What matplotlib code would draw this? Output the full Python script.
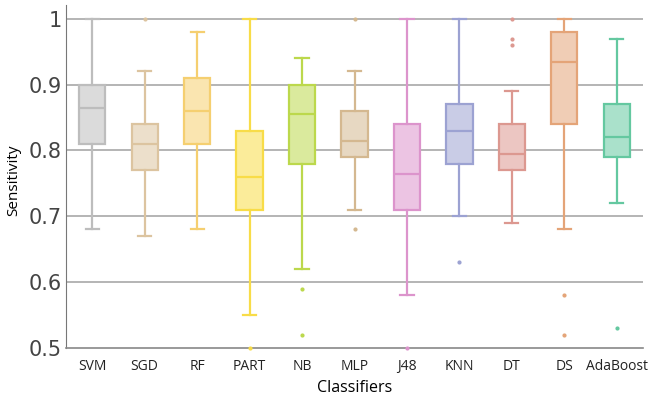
import matplotlib
matplotlib.use("Agg")
import matplotlib.pyplot as plt
import matplotlib.colors as mcolors

classifiers = ['SVM', 'SGD', 'RF', 'PART', 'NB', 'MLP', 'J48', 'KNN', 'DT', 'DS', 'AdaBoost']
whisker_low = [0.68, 0.67, 0.68, 0.55, 0.62, 0.71, 0.58, 0.70, 0.69, 0.68, 0.72]
q1 = [0.81, 0.77, 0.81, 0.71, 0.78, 0.79, 0.71, 0.78, 0.77, 0.84, 0.79]
median = [0.865, 0.81, 0.86, 0.76, 0.855, 0.815, 0.765, 0.83, 0.795, 0.935, 0.82]
q3 = [0.90, 0.84, 0.91, 0.83, 0.90, 0.86, 0.84, 0.87, 0.84, 0.98, 0.87]
whisker_high = [1.00, 0.92, 0.98, 1.00, 0.94, 0.92, 1.00, 1.00, 0.89, 1.00, 0.97]
outliers = [[], [1.0], [], [0.5], [0.59, 0.52], [1.0, 0.68], [0.5], [0.63],
            [1.0, 0.97, 0.96], [0.58, 0.52], [0.53]]

edge_colors = ['#bdbdbd', '#dcc4a0', '#f5cf70', '#f8dc48', '#bcd84c', '#d4b890',
               '#dc94cc', '#9ca2d2', '#dc9890', '#e4a478', '#64c8a0']

stats = []
for i, name in enumerate(classifiers):
    stats.append({'label': name, 'whislo': whisker_low[i], 'q1': q1[i], 'med': median[i],
                  'q3': q3[i], 'whishi': whisker_high[i], 'fliers': outliers[i]})

fig = plt.figure(figsize=(6.53, 3.99), dpi=100)
ax = fig.add_axes([66 / 653, 1 - 348 / 399, 577 / 653, 343 / 399])

for y in [0.6, 0.7, 0.8, 0.9, 1.0]:
    ax.axhline(y, color='#a8a8a8', lw=1.2, zorder=0)

bp = ax.bxp(stats, positions=range(len(classifiers)), widths=0.5, patch_artist=True,
            showfliers=True, capwidths=0.25)

for i, c in enumerate(edge_colors):
    rgb = mcolors.to_rgb(c)
    fill = tuple(0.55 * v + 0.45 for v in rgb)
    bp['boxes'][i].set(facecolor=fill, edgecolor=c, linewidth=1.6)
    bp['medians'][i].set(color=c, linewidth=1.6)
    for w in bp['whiskers'][2 * i:2 * i + 2]:
        w.set(color=c, linewidth=1.6)
    for cap in bp['caps'][2 * i:2 * i + 2]:
        cap.set(color=c, linewidth=1.6, clip_on=False)
    bp['fliers'][i].set(marker='o', markersize=2, markerfacecolor=c,
                        markeredgecolor=c, linestyle='none', clip_on=False, zorder=5)

ax.set_xlim(-0.5, len(classifiers) - 0.5)
ax.set_ylim(0.5, 1.021)
ax.set_yticks([0.5, 0.6, 0.7, 0.8, 0.9, 1.0])
ax.set_yticklabels(['0.5', '0.6', '0.7', '0.8', '0.9', '1'], fontsize=15, color='#444444')
ax.set_xticks(range(len(classifiers)))
ax.set_xticklabels(classifiers, fontsize=10, family='Open Sans', color='#222222')
ax.tick_params(axis='both', length=0)
ax.tick_params(axis='x', pad=8)
ax.tick_params(axis='y', pad=3)

for s in ['top', 'right']:
    ax.spines[s].set_visible(False)
ax.spines['left'].set_color('#777777')
ax.spines['bottom'].set_color('#888888')
ax.spines['bottom'].set_linewidth(1.2)

ax.set_xlabel('Classifiers', fontsize=11.5, family='Open Sans', labelpad=4)
ax.set_ylabel('Sensitivity', fontsize=11, family='Open Sans')
ax.yaxis.set_label_coords(-0.078, 0.49)

fig.savefig('out.png', dpi=100)
